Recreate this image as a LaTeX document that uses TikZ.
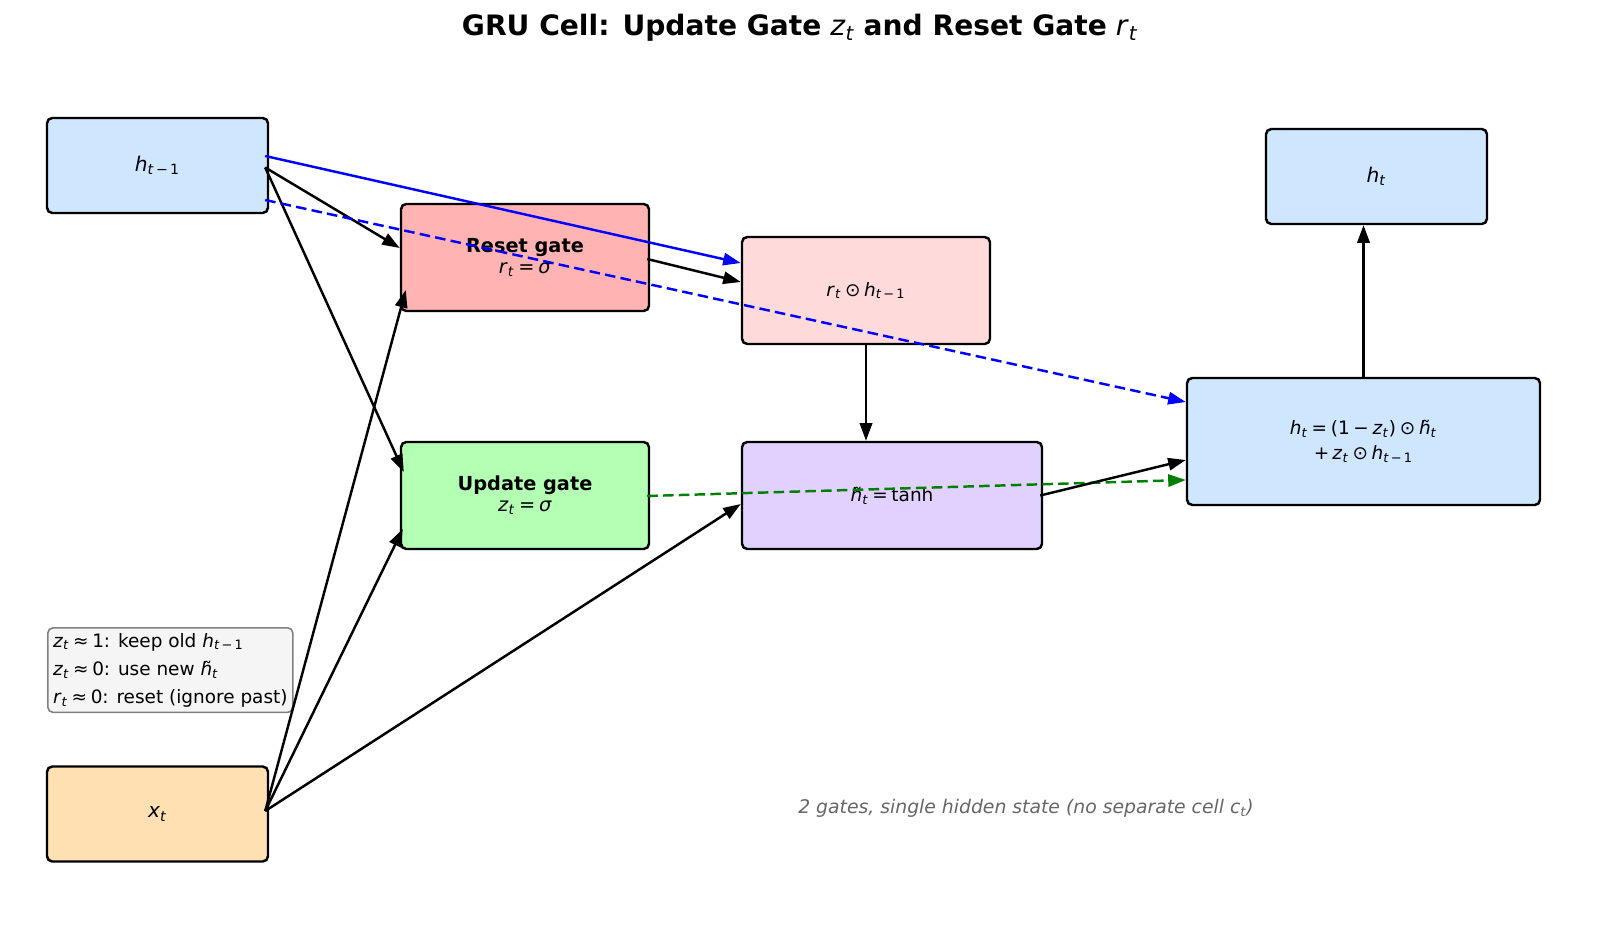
\documentclass[tikz,border=0pt]{standalone}
\usepackage{fontspec}
\setmainfont{DejaVu Sans}
\usetikzlibrary{arrows.meta,calc}
\definecolor{hblue}{HTML}{CFE6FF}
\definecolor{rred}{HTML}{FFB3B3}
\definecolor{rpink}{HTML}{FFDADA}
\definecolor{ugreen}{HTML}{B3FFB3}
\definecolor{cpurple}{HTML}{E0D1FF}
\definecolor{xorange}{HTML}{FFE0B3}
\definecolor{lgray}{HTML}{F5F5F5}
\definecolor{fgray}{HTML}{666666}
\definecolor{dgreen}{RGB}{0,128,0}
\newcommand\vt[1]{\textit{#1}\textsubscript{\textit{t}}}
\newcommand\hprev{\textit{h}\textsubscript{\textit{t}\,−\,1}}
\newcommand\htil{\~{\textit{h}}\textsubscript{\textit{t}}}
\newcommand\rel[1]{\hspace{0.2em}#1\hspace{0.2em}}

\begin{document}
\begin{tikzpicture}[x=0.02cm, y=-0.02cm,
  box/.style={draw, line width=1.4pt, rounded corners=3pt, inner sep=0pt, align=center, font=\fontsize{11.5}{13}\selectfont},
  arr/.style={-{Triangle[length=10pt,width=7pt]}, line width=1.4pt}]
\useasboundingbox (0,0) rectangle (1600,926);

\node (title) at (800,28) {\fontsize{16}{18}\selectfont\textbf{GRU Cell: Update Gate} \vt{z} \textbf{and Reset Gate} \vt{r}};

% inputs and output
\node[box, fill=hblue, minimum width=221*0.02cm, minimum height=95*0.02cm] (hprev) at (157.5,165.5) {\hprev};
\node[box, fill=xorange, minimum width=221*0.02cm, minimum height=95*0.02cm] (xt) at (157.5,814) {\vt{x}};
\node[box, fill=hblue, minimum width=221*0.02cm, minimum height=95*0.02cm] (hnew) at (1376.5,176.5) {\vt{h}};

% gates
\node[box, fill=rred, minimum width=248*0.02cm, minimum height=107*0.02cm, font=\fontsize{11}{12}\selectfont] (reset) at (525,257.5) {\textbf{Reset gate}\\\vt{r}\rel{=}\textit{σ}};
\node[box, fill=ugreen, minimum width=248*0.02cm, minimum height=107*0.02cm, font=\fontsize{11}{12}\selectfont] (update) at (525,495.5) {\textbf{Update gate}\\\vt{z}\rel{=}\textit{σ}};

% candidate and combination
\node[box, fill=rpink, minimum width=248*0.02cm, minimum height=107*0.02cm, font=\fontsize{10.5}{12}\selectfont] (rh) at (866,290.5) {\vt{r}\rel{⊙}\hprev};
\node[box, fill=cpurple, minimum width=300*0.02cm, minimum height=107*0.02cm, font=\fontsize{10.5}{12}\selectfont] (cand) at (892,495.5) {\htil\rel{=}tanh};
\node[box, fill=hblue, minimum width=353*0.02cm, minimum height=127*0.02cm, font=\fontsize{10.5}{14}\selectfont] (out) at (1363.5,441.5) {\vt{h}\rel{=}(1\rel{−}\vt{z})\rel{⊙}\htil\\+\,\vt{z}\rel{⊙}\hprev};

% note boxes
\node[draw=gray, fill=lgray, line width=0.9pt, rounded corners=3pt, align=left, inner sep=3pt, anchor=north west, font=\fontsize{10.5}{16}\selectfont] (legend) at (47,627) {\vt{z}\rel{≈}1: keep old \hprev\\\vt{z}\rel{≈}0: use new \htil\\\vt{r}\rel{≈}0: reset (ignore past)};
\node[text=fgray, font=\fontsize{10.7}{12}\selectfont\itshape] (foot) at (1026,808) {2 gates, single hidden state (no separate cell \vt{c})};

% connections
\draw[arr] ($(hprev.east)+(-4,2)$) -- ($(reset.west)+(0,-9.5)$);
\draw[arr] ($(hprev.east)+(-4,2)$) -- ($(update.west)+(4,-23.5)$);
\draw[arr] ($(xt.east)+(-4,-3)$) -- ($(reset.west)+(6,32.5)$);
\draw[arr] ($(xt.east)+(-4,-3)$) -- ($(update.west)+(3,33.5)$);
\draw[arr] ($(xt.east)+(-4,-3)$) -- ($(cand.west)+(0,8.5)$);
\draw[arr, blue] ($(hprev.east)+(-4,-9.5)$) -- ($(rh.west)+(0,-27.5)$);
\draw[arr, blue, dash pattern=on 6pt off 3pt] ($(hprev.east)+(-4,34.5)$) -- ($(out.west)+(0,-39.5)$);
\draw[arr] ($(reset.east)+(-3,1.5)$) -- ($(rh.west)+(0,-8.5)$);
\draw[arr] (rh.south) -- (rh.south |- cand.north);
\draw[arr, dgreen, dash pattern=on 6pt off 3pt] ($(update.east)+(-3,0.5)$) -- ($(out.west)+(0,38.5)$);
\draw[arr] ($(cand.east)+(-3,0)$) -- ($(out.west)+(0,18.5)$);
\draw[arr] (out.north) -- (out.north |- hnew.south);
\end{tikzpicture}
\end{document}
